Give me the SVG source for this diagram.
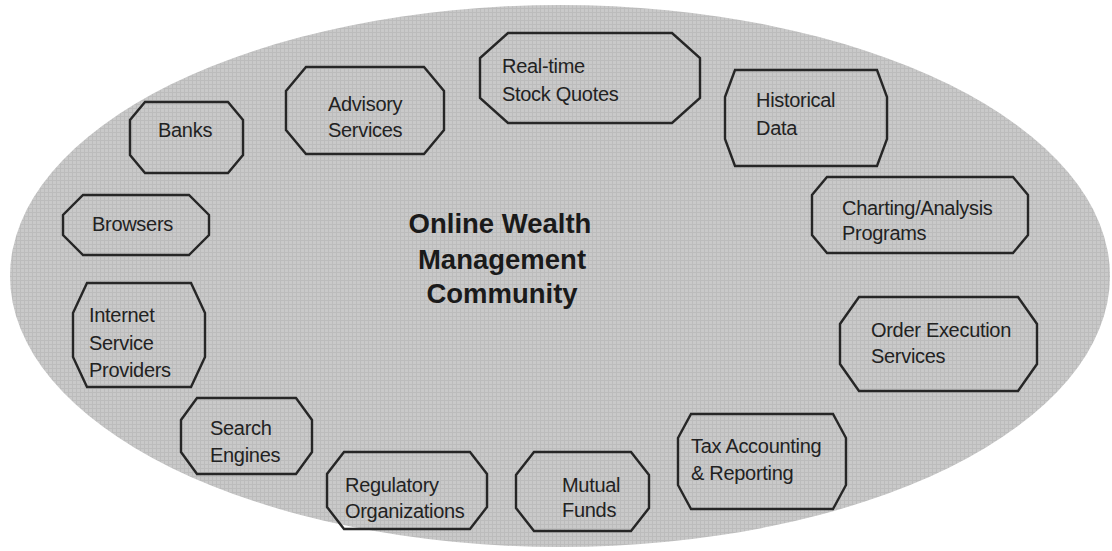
<svg xmlns="http://www.w3.org/2000/svg" width="1112" height="551" viewBox="0 0 1112 551">
  <defs>
    <!-- fine halftone-like grid used as the community background -->
    <pattern id="screen" width="4" height="4" patternUnits="userSpaceOnUse">
      <rect width="4" height="4" fill="#c9c9c9"/>
      <path d="M0 0.5H4M0.5 0V4" stroke="#bcbcbc" stroke-width="1"/>
    </pattern>
  </defs>
  <style>
    .node { fill: none; stroke: #262626; stroke-width: 2.4; stroke-linejoin: miter; }
    .lbl { font-family: "Liberation Sans", Arial, sans-serif; font-size: 20px; letter-spacing: -0.3px; fill: #222; }
    .title { font-family: "Liberation Sans", Arial, sans-serif; font-size: 27.5px; font-weight: bold; fill: #1a1a1a; text-anchor: middle; }
  </style>

  <rect width="1112" height="551" fill="#ffffff"/>

  <!-- community boundary -->
  <ellipse id="community" cx="560" cy="276" rx="550" ry="271" fill="url(#screen)"/>

  <g id="center-label">
    <text class="title" x="500" y="233">Online Wealth</text>
    <text class="title" x="502" y="269">Management</text>
    <text class="title" x="502" y="303">Community</text>
  </g>

  <!-- connectors: none drawn in this diagram -->
  <g id="connectors"/>

  <g id="banks">
    <polygon class="node" points="145,102 228,102 243,120 243,155 228,173 145,173 130,155 130,120"/>
    <text class="lbl" x="158" y="137">Banks</text>
  </g>

  <g id="advisory-services">
    <polygon class="node" points="306,67 424,67 444,91 444,130 424,154 306,154 286,130 286,91"/>
    <text class="lbl" x="328" y="111">Advisory</text>
    <text class="lbl" x="328" y="137">Services</text>
  </g>

  <g id="real-time-quotes">
    <polygon class="node" points="508,33 672,33 700,58 700,98 672,123 508,123 480,98 480,58"/>
    <text class="lbl" x="502" y="73">Real-time</text>
    <text class="lbl" x="502" y="101">Stock Quotes</text>
  </g>

  <g id="historical-data">
    <polygon class="node" points="735,70 877,70 887,97 887,139 877,166 735,166 725,139 725,97"/>
    <text class="lbl" x="756" y="107">Historical</text>
    <text class="lbl" x="756" y="135">Data</text>
  </g>

  <g id="charting-analysis">
    <polygon class="node" points="827,177 1013,177 1028,195 1028,235 1013,253 827,253 812,235 812,195"/>
    <text class="lbl" x="842" y="215">Charting/Analysis</text>
    <text class="lbl" x="842" y="240">Programs</text>
  </g>

  <g id="order-execution">
    <polygon class="node" points="859,297 1018,297 1037,324 1037,364 1018,391 859,391 840,364 840,324"/>
    <text class="lbl" x="871" y="337">Order Execution</text>
    <text class="lbl" x="871" y="363">Services</text>
  </g>

  <g id="tax-accounting">
    <polygon class="node" points="691,414 833,414 846,438 846,485 833,509 691,509 678,485 678,438"/>
    <text class="lbl" x="691" y="453">Tax Accounting</text>
    <text class="lbl" x="691" y="480">&amp; Reporting</text>
  </g>

  <g id="mutual-funds">
    <polygon class="node" points="534,452 631,452 649,475 649,508 631,531 534,531 516,508 516,475"/>
    <text class="lbl" x="562" y="492">Mutual</text>
    <text class="lbl" x="562" y="517">Funds</text>
  </g>

  <g id="regulatory-organizations">
    <polygon class="node" points="344,452 470,452 487,474 487,507 470,529 344,529 327,507 327,474"/>
    <text class="lbl" x="345" y="492">Regulatory</text>
    <text class="lbl" x="345" y="518">Organizations</text>
  </g>

  <g id="search-engines">
    <polygon class="node" points="197,398 296,398 312,420 312,452 296,474 197,474 181,452 181,420"/>
    <text class="lbl" x="210" y="435">Search</text>
    <text class="lbl" x="210" y="462">Engines</text>
  </g>

  <g id="internet-service-providers">
    <polygon class="node" points="87,283 191,283 205,313 205,357 191,387 87,387 73,357 73,313"/>
    <text class="lbl" x="89" y="322">Internet</text>
    <text class="lbl" x="89" y="350">Service</text>
    <text class="lbl" x="89" y="377">Providers</text>
  </g>

  <g id="browsers">
    <polygon class="node" points="83,195 189,195 209,215 209,235 189,255 83,255 63,235 63,215"/>
    <text class="lbl" x="92" y="231">Browsers</text>
  </g>
</svg>
